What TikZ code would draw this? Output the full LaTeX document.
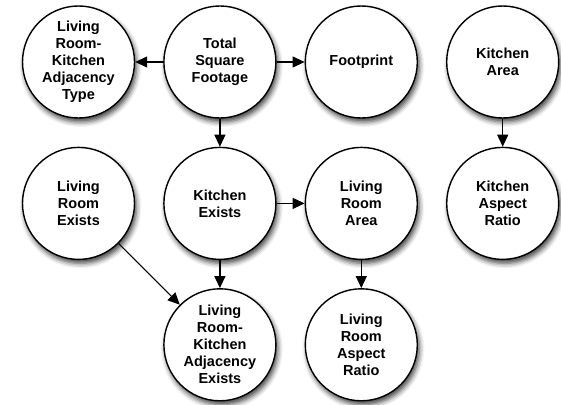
\documentclass[tikz,border=0pt]{standalone}
\usepackage{fontspec}
\setmainfont{Liberation Sans}
\usetikzlibrary{positioning,arrows.meta,shadows.blur}

\begin{document}
\begin{tikzpicture}[x=1pt,y=1pt,
    font=\fontsize{14.5}{17}\selectfont\bfseries,
    node distance=28pt,
    var/.style={draw, circle, line width=1.4pt, fill=white,
        minimum size=112pt, inner sep=0, align=center,
        blur shadow={shadow xshift=2pt, shadow yshift=-4pt,
            shadow blur radius=5pt, shadow opacity=75}},
    link/.style={-{Triangle[length=12pt,width=11pt]}, line width=1.2pt}]

% Top row
\node[var] (adjtype) {Living\\Room-\\Kitchen\\Adjacency\\Type};

\node[var,
    right=of adjtype] (total) {Total\\Square\\Footage};

\node[var,
    right=of total] (footprint) {Footprint};

\node[var,
    right=of footprint] (karea) {Kitchen\\Area};

% Middle row
\node[var,
    below=of adjtype] (lrexists) {Living\\Room\\Exists};

\node[var,
    below=of total] (kexists) {Kitchen\\Exists};

\node[var,
    below=of footprint] (lrarea) {Living\\Room\\Area};

\node[var,
    below=of karea] (kratio) {Kitchen\\Aspect\\Ratio};

% Bottom row
\node[var,
    below=of kexists] (adjexists) {Living\\Room-\\Kitchen\\Adjacency\\Exists};

\node[var,
    below=of lrarea] (lrratio) {Living\\Room\\Aspect\\Ratio};

\useasboundingbox (-78.5,62) rectangle (482.5,-342);

% Arrows
\draw[link] (total) -- (adjtype);
\draw[link] (total) -- (footprint);
\draw[link] (total) -- (kexists);
\draw[link] (karea) -- (kratio);
\draw[link] (kexists) -- (lrarea);
\draw[link] (kexists) -- (adjexists);
\draw[link] (lrexists) -- (adjexists);
\draw[link] (lrarea) -- (lrratio);

\end{tikzpicture}
\end{document}
